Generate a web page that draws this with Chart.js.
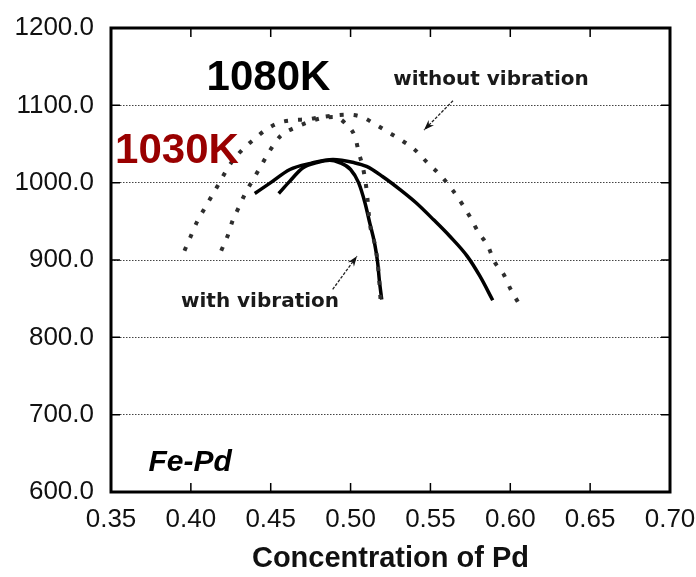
<!DOCTYPE html>
<html>
<head>
<meta charset="utf-8">
<script src="https://cdn.jsdelivr.net/npm/chart.js@4.4.1/dist/chart.umd.min.js"></script>
<style>
  html, body { margin: 0; padding: 0; background: #fff; }
  #wrap { width: 696px; height: 577px; position: relative; }
</style>
</head>
<body>
<div id="wrap"><canvas id="orderChart"></canvas></div>
<script>
// 軸の目盛り
const xTicks = [0.35, 0.40, 0.45, 0.50, 0.55, 0.60, 0.65, 0.70];
const yTicks = [600, 700, 800, 900, 1000, 1100, 1200];

// 振動なし(点線) 広い方
const noVibWideX = [0.396, 0.400, 0.404, 0.409, 0.414, 0.419, 0.424, 0.431, 0.440, 0.448, 0.456, 0.465, 0.473, 0.482, 0.490, 0.498, 0.507, 0.515, 0.523, 0.531, 0.540, 0.548, 0.557, 0.564, 0.570, 0.575, 0.580, 0.586, 0.590, 0.596, 0.600, 0.605];
const noVibWideY = [912, 931, 950, 968, 986, 1004, 1022, 1040, 1057, 1070, 1078, 1081, 1082, 1085, 1087, 1088, 1085, 1076, 1066, 1056, 1043, 1026, 1008, 990, 972, 955, 936, 918, 898, 881, 863, 845];

// 振動なし(点線) 狭い方
const noVibNarrowX = [0.419, 0.423, 0.426, 0.430, 0.434, 0.439, 0.444, 0.449, 0.456, 0.465, 0.481, 0.490, 0.497, 0.503, 0.505, 0.508, 0.510, 0.512, 0.515, 0.517, 0.518, 0.519];
const noVibNarrowY = [912, 931, 950, 968, 986, 1004, 1022, 1040, 1060, 1071, 1083, 1085, 1076, 1058, 1040, 1017, 991, 948, 922, 896, 872, 842];

// 振動あり(実線) 広い方
const vibWideX = [0.440, 0.450, 0.462, 0.475, 0.489, 0.502, 0.510, 0.520, 0.531, 0.541, 0.552, 0.562, 0.573, 0.581, 0.589];
const vibWideY = [986, 1000, 1017, 1025, 1030, 1026, 1021, 1008, 991, 974, 952, 931, 905, 879, 848];

// 振動あり(実線) 狭い方
const vibNarrowX = [0.455, 0.462, 0.470, 0.479, 0.487, 0.493, 0.500, 0.505, 0.509, 0.512, 0.515, 0.517, 0.518, 0.5195];
const vibNarrowY = [986, 1002, 1019, 1026, 1029, 1026, 1017, 1000, 974, 948, 922, 896, 874, 849];

const toPoints = (xs, ys) => xs.map((x, i) => ({ x: x, y: ys[i] }));

const dotted = {
    showLine: true,
    borderColor: '#2e2e2e',
    borderWidth: 4,
    borderDash: [4, 10],
    pointRadius: 0,
    tension: 0.4,
    cubicInterpolationMode: 'monotone'
};
const solid = {
    showLine: true,
    borderColor: '#000',
    borderWidth: 3.5,
    pointRadius: 0,
    tension: 0.4,
    cubicInterpolationMode: 'monotone'
};

// 枠線・内向きの目盛り線・注記を描く
const frame = {
    id: 'frame',
    afterDatasetsDraw(chart) {
        const { ctx, chartArea: a, scales: { x, y } } = chart;
        ctx.save();
        ctx.strokeStyle = '#000';
        ctx.lineWidth = 1.5;
        ctx.beginPath();
        xTicks.forEach(v => {
            const px = x.getPixelForValue(v);
            ctx.moveTo(px, a.bottom); ctx.lineTo(px, a.bottom - 9);
            ctx.moveTo(px, a.top); ctx.lineTo(px, a.top + 9);
        });
        yTicks.forEach(v => {
            const py = y.getPixelForValue(v);
            ctx.moveTo(a.left, py); ctx.lineTo(a.left + 9, py);
            ctx.moveTo(a.right, py); ctx.lineTo(a.right - 9, py);
        });
        ctx.stroke();
        ctx.lineWidth = 3;
        ctx.strokeRect(a.left, a.top, a.right - a.left, a.bottom - a.top);

        // 矢印
        const arrow = (x0, y0, x1, y1) => {
            const sx = x.getPixelForValue(x0), sy = y.getPixelForValue(y0);
            const ex = x.getPixelForValue(x1), ey = y.getPixelForValue(y1);
            const ang = Math.atan2(ey - sy, ex - sx);
            ctx.lineWidth = 1.3;
            ctx.strokeStyle = '#222';
            ctx.setLineDash([3, 1.5]);
            ctx.beginPath();
            ctx.moveTo(sx, sy); ctx.lineTo(ex, ey);
            ctx.stroke();
            ctx.setLineDash([]);
            ctx.fillStyle = '#111';
            ctx.beginPath();
            ctx.moveTo(ex, ey);
            ctx.lineTo(ex - 11 * Math.cos(ang - 0.35), ey - 11 * Math.sin(ang - 0.35));
            ctx.lineTo(ex - 7 * Math.cos(ang), ey - 7 * Math.sin(ang));
            ctx.lineTo(ex - 11 * Math.cos(ang + 0.35), ey - 11 * Math.sin(ang + 0.35));
            ctx.closePath();
            ctx.fill();
        };
        arrow(0.5641, 1106, 0.5460, 1068);
        arrow(0.4888, 862, 0.5040, 905);

        // 注記テキスト
        const note = (text, vx, vy, font, color) => {
            ctx.font = font;
            ctx.fillStyle = color;
            ctx.textAlign = 'center';
            ctx.textBaseline = 'middle';
            ctx.fillText(text, x.getPixelForValue(vx), y.getPixelForValue(vy));
        };
        note('1080K', 0.4486, 1135, 'bold 42px "Liberation Sans", Arial', '#000');
        note('1030K', 0.3913, 1041, 'bold 42px "Liberation Sans", Arial', '#990000');
        note('without vibration', 0.5879, 1133, 'bold 20px "DejaVu Sans", sans-serif', '#1a1a1a');
        note('with vibration', 0.4433, 846, 'bold 20px "DejaVu Sans", sans-serif', '#1a1a1a');
        note('Fe-Pd', 0.3995, 638, 'italic bold 30px "Liberation Sans", Arial', '#000');
        ctx.restore();
    }
};

const config = {
    type: 'scatter',
    data: {
        datasets: [
            { ...dotted, label: 'without vibration (wide)', data: toPoints(noVibWideX, noVibWideY) },
            { ...dotted, label: 'without vibration (narrow)', data: toPoints(noVibNarrowX, noVibNarrowY) },
            { ...solid, label: 'with vibration (wide)', data: toPoints(vibWideX, vibWideY) },
            { ...solid, label: 'with vibration (narrow)', data: toPoints(vibNarrowX, vibNarrowY) }
        ]
    },
    options: {
        responsive: true,
        maintainAspectRatio: false,
        animation: false,
        layout: { padding: { top: 28, right: 0, left: 0, bottom: 0 } },
        plugins: { legend: { display: false }, tooltip: { enabled: false } },
        scales: {
            x: {
                type: 'linear',
                min: 0.35,
                max: 0.70,
                afterBuildTicks: scale => { scale.ticks = xTicks.map(v => ({ value: v })); },
                afterFit: scale => { scale.height = 85; scale.paddingRight = 26; },
                grid: { display: false, drawTicks: false },
                border: { display: false },
                ticks: {
                    padding: 12,
                    color: '#111',
                    font: { family: '"Liberation Sans", Arial', size: 26 },
                    callback: v => v.toFixed(2)
                },
                title: {
                    display: true,
                    text: 'Concentration of Pd',
                    color: '#111',
                    padding: { top: 0, bottom: 1 },
                    font: { family: '"Liberation Sans", Arial', size: 29, weight: 'bold' }
                }
            },
            y: {
                min: 600,
                max: 1200,
                afterBuildTicks: scale => { scale.ticks = yTicks.map(v => ({ value: v })); },
                afterFit: scale => { scale.width = 111; scale.paddingTop = 0; scale.paddingBottom = 0; },
                grid: { color: '#444', lineWidth: 1, drawTicks: false },
                border: { display: false, dash: [1.5, 1.5] },
                ticks: {
                    padding: 17,
                    color: '#111',
                    font: { family: '"Liberation Sans", Arial', size: 26 },
                    callback: v => v.toFixed(1)
                }
            }
        }
    },
    plugins: [frame]
};

const ctx = document.querySelector('#orderChart');
const orderChart = new Chart(ctx, config);
</script>
</body>
</html>
